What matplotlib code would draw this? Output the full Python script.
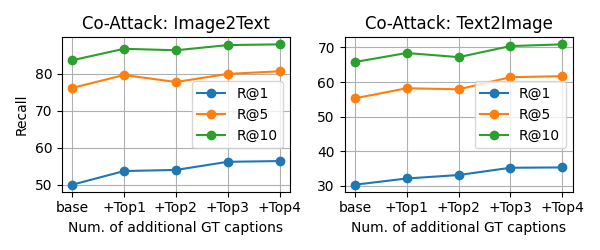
import numpy as np
import matplotlib.pyplot as plt

xlabels = ['base', '+Top1', '+Top2', '+Top3', '+Top4']

# Image2Text
i2t_r1 = [50.0, 53.7, 54.0, 56.2, 56.4]
i2t_r5 = [76.2, 79.7, 77.8, 80.0, 80.7]
i2t_r10 = [83.7, 86.8, 86.4, 87.8, 88.0]

# Text2Image
t2i_r1 = [30.3, 32.1, 33.1, 35.2, 35.3]
t2i_r5 = [55.3, 58.2, 57.9, 61.4, 61.7]
t2i_r10 = [65.8, 68.4, 67.2, 70.4, 70.9]

x = np.arange(len(xlabels))

fig, axes = plt.subplots(1, 2, figsize=(6, 2.5), dpi=100)

for ax, title, r1, r5, r10 in [
    (axes[0], 'Co-Attack: Image2Text', i2t_r1, i2t_r5, i2t_r10),
    (axes[1], 'Co-Attack: Text2Image', t2i_r1, t2i_r5, t2i_r10),
]:
    ax.plot(x, r1, 'o-', label='R@1')
    ax.plot(x, r5, 'o-', label='R@5')
    ax.plot(x, r10, 'o-', label='R@10')
    ax.set_xticks(x)
    ax.set_xticklabels(xlabels)
    ax.set_title(title)
    ax.set_xlabel('Num. of additional GT captions')
    ax.grid(True)
    ax.legend(loc='center right')

axes[0].set_ylabel('Recall')

plt.tight_layout()
plt.savefig('out.png')
